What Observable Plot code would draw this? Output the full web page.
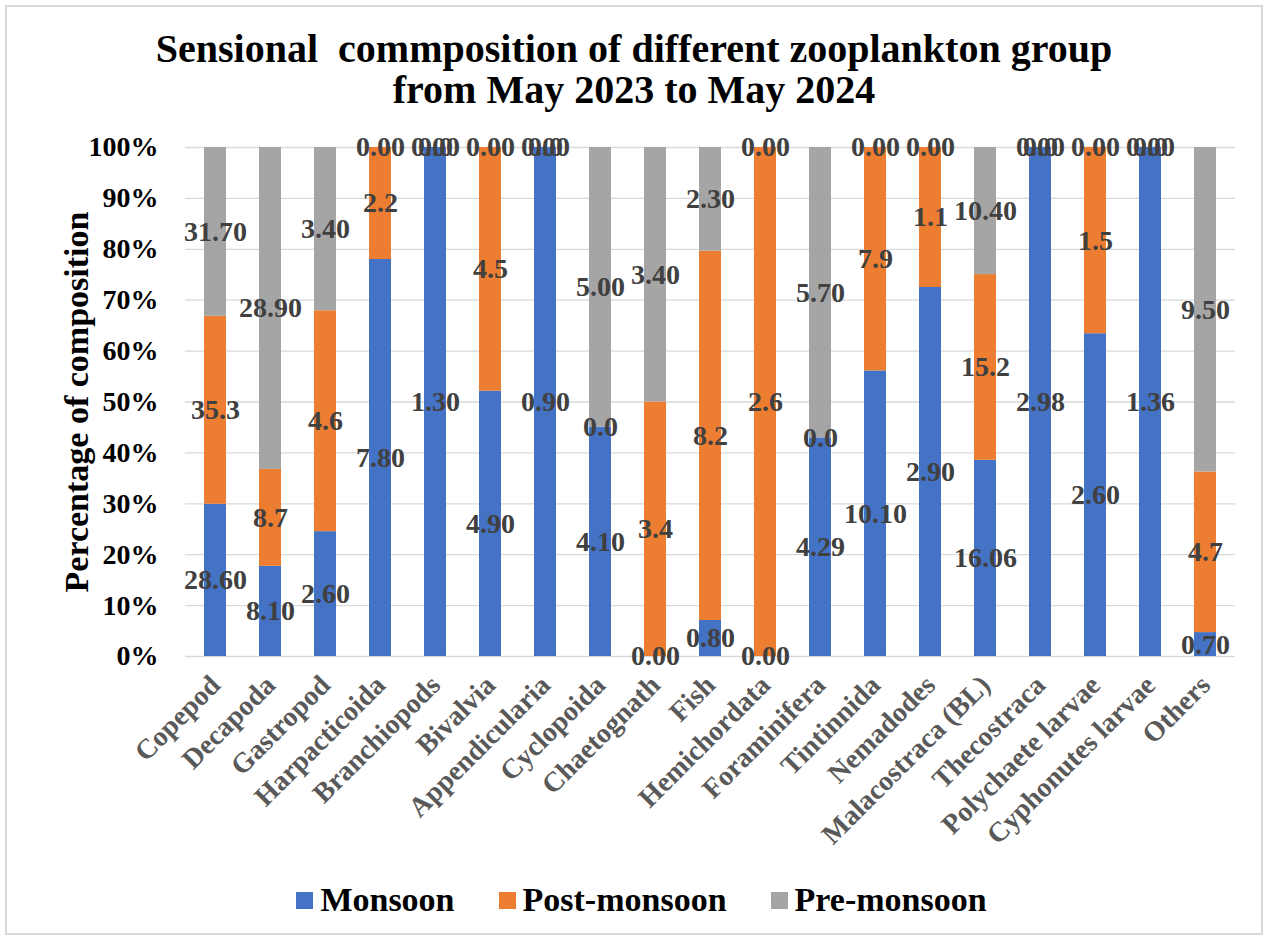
<!DOCTYPE html>
<html><head><meta charset="utf-8">
<script src="https://cdn.jsdelivr.net/npm/d3@7"></script>
<script src="https://cdn.jsdelivr.net/npm/@observablehq/plot@0.6"></script>
<style>
body{margin:0;background:#fff;font-family:"Liberation Serif",serif;}
#wrap{position:relative;width:1268px;height:940px;overflow:hidden;}
#frame{position:absolute;left:5px;top:5px;width:1254px;height:926px;border:2px solid #d9d9d9;}
#chart{position:absolute;left:0;top:0;}
#title{position:absolute;left:0;top:28px;width:1268px;text-align:center;font-weight:bold;font-size:40px;line-height:41px;white-space:pre;color:#000;}
#legend{position:absolute;left:0;top:880px;width:1268px;height:40px;display:flex;justify-content:center;align-items:center;font-weight:bold;font-size:34px;color:#000;padding-left:15px;box-sizing:border-box;}
.item{display:flex;align-items:center;margin:0 22px;}
.sw{width:17px;height:17px;margin-right:7px;}
</style>
</head><body>
<div id="wrap">
<div id="chart"></div>
<div id="frame"></div>
<div id="title">Sensional  commposition of different zooplankton group
from May 2023 to May 2024</div>
<div id="legend"></div>
</div>
<script>
const groups = ["Copepod","Decapoda","Gastropod","Harpacticoida","Branchiopods","Bivalvia","Appendicularia","Cyclopoida","Chaetognath","Fish","Hemichordata","Foraminifera","Tintinnida","Nemadodes","Malacostraca (BL)","Thecostraca","Polychaete larvae","Cyphonutes larvae","Others"];
const monsoon =     [28.60, 8.10, 2.60, 7.80, 1.30, 4.90, 0.90, 4.10, 0.00, 0.80, 0.00, 4.29, 10.10, 2.90, 16.06, 2.98, 2.60, 1.36, 0.70];
const postMonsoon = [35.3,  8.7,  4.6,  2.2,  0.0,  4.5,  0.0,  0.0,  3.4,  8.2,  2.6,  0.0,  7.9,   1.1,  15.2,  0.0,  1.5,  0.0,  4.7];
const preMonsoon =  [31.70, 28.90, 3.40, 0.00, 0.00, 0.00, 0.00, 5.00, 3.40, 2.30, 0.00, 5.70, 0.00, 0.00, 10.40, 0.00, 0.00, 0.00, 9.50];
const seasons = ["Monsoon","Post-monsoon","Pre-monsoon"];
const colors = ["#4472C4","#ED7D31","#A5A5A5"];
const labelDecimals = [2,1,2];
const yTicks = [0,0.1,0.2,0.3,0.4,0.5,0.6,0.7,0.8,0.9,1];

const series = [monsoon, postMonsoon, preMonsoon];
const rows = [];
groups.forEach((g,i)=>{
  series.forEach((arr,k)=>{
    rows.push({group:g, season:seasons[k], value:arr[i], label:arr[i].toFixed(labelDecimals[k])});
  });
});

const chart = Plot.plot({
  width:1268, height:870,
  marginTop:147, marginBottom:214, marginLeft:185, marginRight:33,
  style:{fontFamily:'"Liberation Serif", serif', background:"transparent"},
  x:{domain:groups, paddingInner:0.6, paddingOuter:0.3, label:null},
  y:{domain:[0,1], label:null},
  color:{domain:seasons, range:colors},
  marks:[
    Plot.gridY(yTicks, {stroke:"#D9D9D9", strokeOpacity:1, strokeWidth:1.3}),
    Plot.barY(rows, {x:"group", y:"value", fill:"season", offset:"normalize", order:seasons}),
    Plot.text(rows, Plot.stackY({x:"group", y:"value", z:"season", offset:"normalize", order:seasons, text:"label", fill:"#404040", fontSize:28, fontWeight:"bold"})),
    Plot.axisY({ticks:yTicks, tickFormat:d=>Math.round(d*100)+"%", tickSize:0, tickPadding:27, fontSize:28, fontWeight:"bold", fill:"#000", label:null}),
    Plot.axisX({tickSize:0, tickRotate:-45, tickPadding:24, fontSize:28, fontWeight:"bold", fill:"#595959", label:null}),
    Plot.text(["Percentage of composition"], {frameAnchor:"left", dx:-122, rotate:-90, textAnchor:"middle", lineAnchor:"top", fontSize:34, fontWeight:"bold", fill:"#000"})
  ]
});
document.getElementById("chart").appendChild(chart);

const legend = document.getElementById("legend");
seasons.forEach((s,k)=>{
  const it = document.createElement("div"); it.className="item";
  const sw = document.createElement("div"); sw.className="sw"; sw.style.background=colors[k];
  const tx = document.createElement("span"); tx.textContent=s;
  it.appendChild(sw); it.appendChild(tx); legend.appendChild(it);
});
</script>
</body></html>
